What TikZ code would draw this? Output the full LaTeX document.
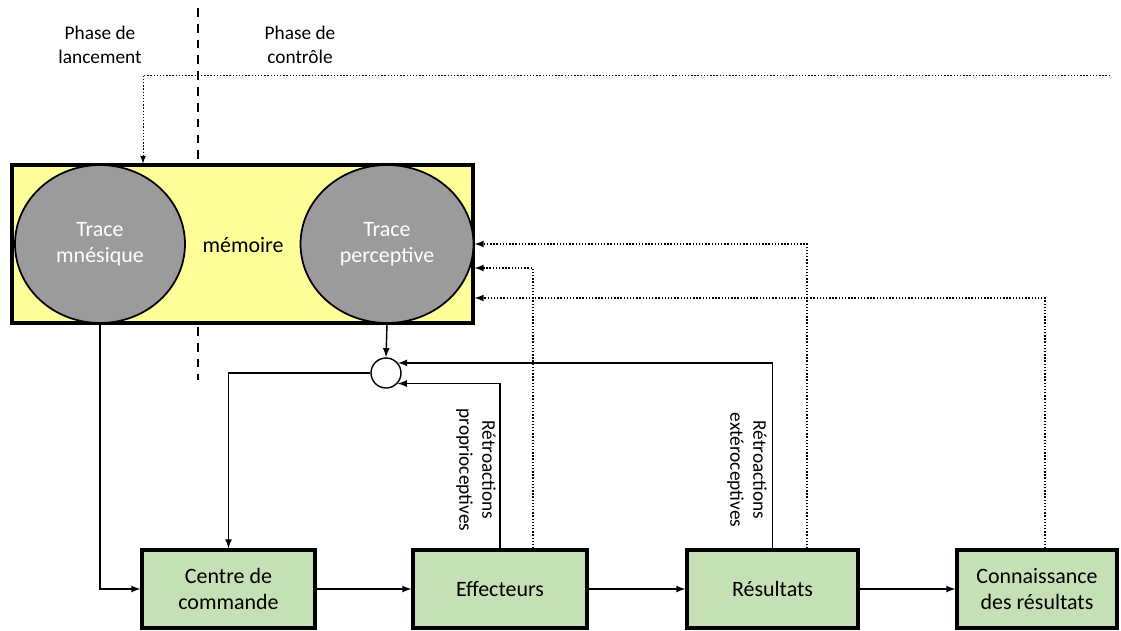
\documentclass[tikz,border=0pt]{standalone}
\usepackage{fontspec}
\setmainfont{Carlito}
\usepackage{tikz}
\usetikzlibrary{shapes.geometric}

\definecolor{memyellow}{RGB}{255,255,153}
\definecolor{tracegray}{RGB}{155,155,155}
\definecolor{boxgreen}{RGB}{197,224,180}

\tikzset{
	membox/.style={draw, line width=1.8pt, fill=memyellow, minimum width=9.22cm, minimum height=3.16cm},
	trace/.style={ellipse, draw, line width=1pt, fill=tracegray, text=white, align=center, minimum height=3.16cm, font=\fontsize{12.5}{14.5}\selectfont},
	stage/.style={draw, line width=1.8pt, fill=boxgreen, align=center, minimum height=1.56cm, font=\fontsize{12.5}{14.8}\selectfont},
	fb/.style={->, line width=0.8pt},
	kr/.style={->, line width=0.8pt, densely dotted},
	phaseline/.style={line width=1.3pt, dash pattern=on 5pt off 4pt}
}

\begin{document}
\begin{tikzpicture}[x=0.02cm, y=-0.02cm, >=latex]
	\useasboundingbox (0,0) rectangle (1121,630);

	\draw[phaseline] (198,8)--(198,160) (198,327)--(198,380);
	\node[align=center, font=\fontsize{11}{13.6}\selectfont] (lanc) at (100,45) {Phase de\\lancement};
	\node[align=center, font=\fontsize{11}{13.6}\selectfont] (ctrl) at (300,45) {Phase de\\contrôle};

	\node[membox] (mem) at (242.5,244) {};
	\node[trace, minimum width=3.4cm] (trM) at (100,244) {Trace\\mnésique};
	\node[trace, minimum width=3.46cm] (trP) at (387,244) {Trace\\perceptive};
	\node[font=\fontsize{12.5}{14.5}\selectfont] (memo) at (243,245) {mémoire};

	\node[circle, draw, line width=0.8pt, fill=white, minimum size=0.6cm, inner sep=0pt] (cmp) at (386,373) {};

	\node[stage, minimum width=3.46cm] (ctr) at (228.5,589) {Centre de\\commande};
	\node[stage, minimum width=3.48cm] (eff) at (500,589) {Effecteurs};
	\node[stage, minimum width=3.42cm] (res) at (772.5,589) {Résultats};
	\node[stage, minimum width=3.2cm] (cdr) at (1037,589) {Connaissance\\des résultats};

	\node[rotate=-90, align=center, font=\fontsize{11}{13}\selectfont] (proprio) at (476,470) {Rétroactions\\proprioceptives};
	\node[rotate=-90, align=center, font=\fontsize{11}{13}\selectfont] (extero) at (747,470) {Rétroactions\\extéroceptives};

	\coordinate (topend) at (1110,75);

	\draw[fb] (ctr.east) -- (eff.west);
	\draw[fb] (eff.east) -- (res.west);
	\draw[fb] (res.east) -- (cdr.west);
	\draw[fb] (trM.south) |- (ctr.west);
	\draw[fb] (trP.south) -- (cmp.north);
	\draw[fb] (cmp.west) -| (ctr.north);
	\draw[fb] (eff.north) |- (cmp.-42);
	\draw[fb] (res.north) |- (cmp.40);

	\draw[kr] ([xshift=0.69cm]res.north) |- (mem.east);
	\draw[kr] ([xshift=0.66cm]eff.north) |- ([yshift=-0.48cm]mem.east);
	\draw[kr] ([xshift=0.16cm]cdr.north) |- ([yshift=-1.08cm]mem.east);
	\draw[kr, line width=0.5pt] (topend) -| ([xshift=-1.99cm]mem.north);
\end{tikzpicture}
\end{document}
